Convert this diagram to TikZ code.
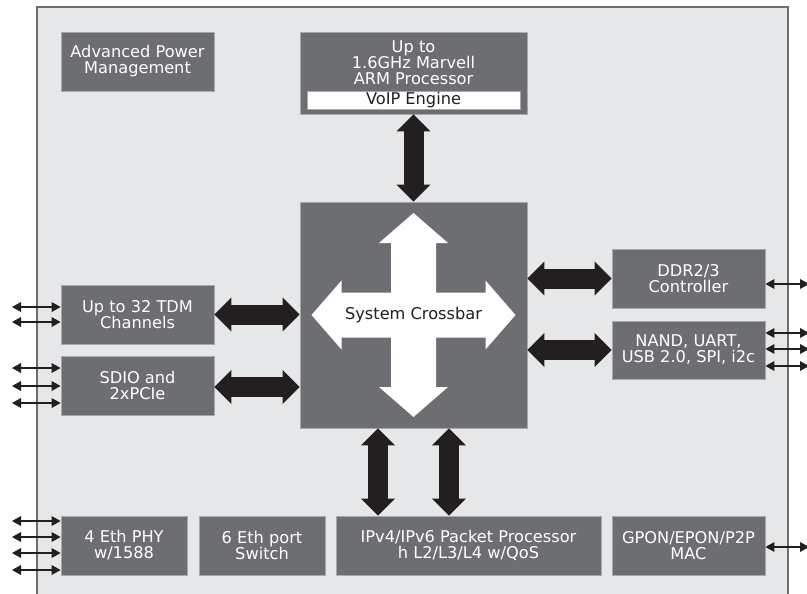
\documentclass[tikz,border=0pt]{standalone}
\usepackage{fontspec}
\setmainfont{DejaVu Sans}
\usetikzlibrary{arrows.meta,calc}
\definecolor{boxc}{HTML}{6D6E71}
\definecolor{boxline}{HTML}{A7A9AC}
\definecolor{bgc}{HTML}{E6E7E8}
\definecolor{framec}{HTML}{6D6E71}
\definecolor{arrowc}{HTML}{231F20}
\begin{document}
\begin{tikzpicture}[x=1pt,y=-1pt,
  font=\fontsize{16.2}{16}\selectfont,
  box/.style={draw=boxline, line width=0.8pt, fill=boxc, text=white, align=center, inner sep=0pt},
  bigarrow/.style={draw=arrowc, line width=20pt,
    {Triangle[length=17pt,width=34pt,line width=0pt]}-{Triangle[length=17pt,width=34pt,line width=0pt]}},
  smallarrow/.style={draw=arrowc, line width=2pt,
    {Triangle[length=9pt,width=10pt,line width=0pt]}-{Triangle[length=9pt,width=10pt,line width=0pt]}}
]
\useasboundingbox (0,0) rectangle (807,594);
\fill[white] (0,0) rectangle (807,594);
\fill[bgc] (37,7) rectangle (788,594);
\draw[framec, line width=1.2pt] (37,594) -- (37,7) -- (788,7) -- (788,594);

% boxes
\node[box, minimum width=153pt, minimum height=59pt] (apm) at (137.5,61.5) {Advanced Power\\Management};
\node[box, minimum width=227pt, minimum height=82pt] (proc) at (413.5,73) {};
\node[text=white, align=center, inner sep=0pt] (proctext) at (413.5,63) {Up to\\1.6GHz Marvell\\ARM Processor};
\node[draw=boxline, line width=0.6pt, fill=white, text=arrowc, inner sep=0pt, minimum width=213pt, minimum height=18pt] (voip) at (413.5,100) {VoIP Engine};
\node[box, minimum width=227pt, minimum height=226pt] (xbar) at (413.5,315) {};
\fill[white, shift={(xbar.center)}]
  (0,-102) -- (34.5,-72) -- (22.5,-72) -- (22.5,-22.5) -- (72,-22.5) -- (72,-34.5) -- (102,0)
  -- (72,34.5) -- (72,22.5) -- (22.5,22.5) -- (22.5,72) -- (34.5,72) -- (0,102)
  -- (-34.5,72) -- (-22.5,72) -- (-22.5,22.5) -- (-72,22.5) -- (-72,34.5) -- (-102,0)
  -- (-72,-34.5) -- (-72,-22.5) -- (-22.5,-22.5) -- (-22.5,-72) -- (-34.5,-72) -- cycle;
\node[text=arrowc, inner sep=0pt] (xbartext) at (xbar.center) {System Crossbar};

\node[box, minimum width=153pt, minimum height=59pt] (tdm) at (137.5,314.5) {Up to 32 TDM\\Channels};
\node[box, minimum width=153pt, minimum height=59pt] (sdio) at (137.5,385.5) {SDIO and\\2xPCIe};
\node[box, minimum width=153pt, minimum height=59pt] (ddr) at (688.5,278.5) {DDR2/3\\Controller};
\node[box, minimum width=153pt, minimum height=58pt] (nand) at (688.5,350) {NAND, UART,\\USB 2.0, SPI, i2c};
\node[box, minimum width=126pt, minimum height=59pt] (phy) at (124,545.5) {4 Eth PHY\\w/1588};
\node[box, minimum width=126pt, minimum height=59pt] (sw) at (262,545.5) {6 Eth port\\Switch};
\node[box, minimum width=265pt, minimum height=59pt] (ipv4) at (468.5,545.5) {IPv4/IPv6 Packet Processor\\h L2/L3/L4 w/QoS};
\node[box, minimum width=153pt, minimum height=59pt] (gpon) at (688.5,545.5) {GPON/EPON/P2P\\MAC};

% big arrows
\draw[bigarrow] (proc.south) -- (xbar.north);
\draw[bigarrow] (tdm.east) -- (tdm.east -| xbar.west);
\draw[bigarrow] ([yshift=-1.5pt]sdio.east) -- ([yshift=-1.5pt]sdio.east -| xbar.west);
\draw[bigarrow] (ddr.west -| xbar.east) -- (ddr.west);
\draw[bigarrow] (nand.west -| xbar.east) -- (nand.west);
\draw[bigarrow] ([xshift=-35.5pt]xbar.south) -- ([xshift=-35.5pt]xbar.south |- ipv4.north);
\draw[bigarrow] ([xshift=35.5pt]xbar.south) -- ([xshift=35.5pt]xbar.south |- ipv4.north);

% small arrows, left
\coordinate (t1) at (12,307);
\coordinate (t2) at (12,322);
\coordinate (s1) at (12,368);
\coordinate (s2) at (12,386);
\coordinate (s3) at (12,403);
\coordinate (p1) at (12,521);
\coordinate (p2) at (12,537);
\coordinate (p3) at (12,553);
\coordinate (p4) at (12,570);
\foreach \c in {t1,t2} \draw[smallarrow] (\c) -- (tdm.west |- \c);
\foreach \c in {s1,s2,s3} \draw[smallarrow] (\c) -- (sdio.west |- \c);
\foreach \c in {p1,p2,p3,p4} \draw[smallarrow] (\c) -- (phy.west |- \c);

% small arrows, right
\coordinate (d1) at (809,284);
\coordinate (n1) at (809,333);
\coordinate (n2) at (809,349);
\coordinate (n3) at (809,366);
\coordinate (g1) at (809,547);
\draw[smallarrow] (ddr.east |- d1) -- (d1);
\foreach \c in {n1,n2,n3} \draw[smallarrow] (nand.east |- \c) -- (\c);
\draw[smallarrow] (gpon.east |- g1) -- (g1);
\end{tikzpicture}
\end{document}
